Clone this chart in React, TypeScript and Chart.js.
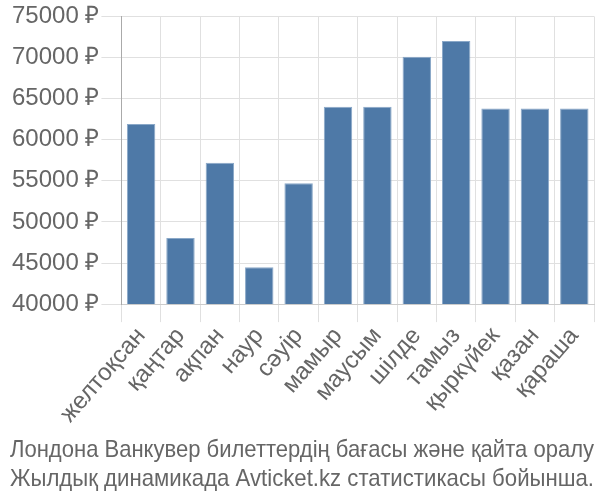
import React, { useEffect, useRef } from "react";
import { Chart, registerables } from "chart.js";

Chart.register(...registerables);

const categories = [
  "желтоқсан",
  "қаңтар",
  "ақпан",
  "наур",
  "сәуір",
  "мамыр",
  "маусым",
  "шілде",
  "тамыз",
  "қыркүйек",
  "қазан",
  "қараша",
];

const prices = [61900, 48050, 57200, 44500, 54700, 64000, 64000, 70100, 72000, 63800, 63800, 63800];

const yMin = 40000;
const yMax = 75000;
const yStep = 5000;
const currency = " ₽";

const titleLines = [
  "Лондона Ванкувер билеттердің бағасы және қайта оралу",
  "Жылдық динамикада Avticket.kz статистикасы бойынша.",
];

export default function App() {
  const canvasRef = useRef<HTMLCanvasElement | null>(null);

  useEffect(() => {
    if (!canvasRef.current) return;
    const chart = new Chart(canvasRef.current, {
      type: "bar",
      data: {
        labels: categories,
        datasets: [
          {
            data: prices,
            backgroundColor: "#4e79a7",
            borderColor: "#8aa8c8",
            borderWidth: 1,
            categoryPercentage: 0.82,
            barPercentage: 0.88,
          },
        ],
      },
      options: {
        responsive: false,
        animation: false,
        layout: { padding: { left: 10, right: 6, top: 3, bottom: 0 } },
        plugins: {
          legend: { display: false },
          tooltip: { enabled: false },
          title: {
            display: true,
            position: "bottom",
            text: titleLines,
            color: "#666",
            font: { family: "'Liberation Sans Narrow', 'Liberation Sans', sans-serif", size: 24, weight: "normal" },
            padding: { top: 8, bottom: 6 },
            lineHeight: 1.17,
          },
        },
        scales: {
          x: {
            grid: { color: "#e0e0e0", offset: true, tickLength: 18 },
            border: { color: "#ccc" },
            ticks: {
              color: "#666",
              font: { family: "'Liberation Sans', sans-serif", size: 24 },
              minRotation: 49,
              maxRotation: 49,
              autoSkip: false,
              padding: 0,
            },
          },
          y: {
            min: yMin,
            max: yMax,
            grid: { color: "#e0e0e0", tickLength: 20 },
            border: { color: "#aaa" },
            ticks: {
              stepSize: yStep,
              color: "#666",
              font: { family: "'Liberation Sans', sans-serif", size: 24 },
              padding: 2,
              callback: (v: any) => `${v}${currency}`,
            },
          },
        },
      },
    });
    return () => chart.destroy();
  }, []);

  return (
    <div style={{ position: "fixed", left: 0, top: 0, width: 600, height: 500, background: "#fff" }}>
      <canvas ref={canvasRef} width={600} height={500} />
    </div>
  );
}
